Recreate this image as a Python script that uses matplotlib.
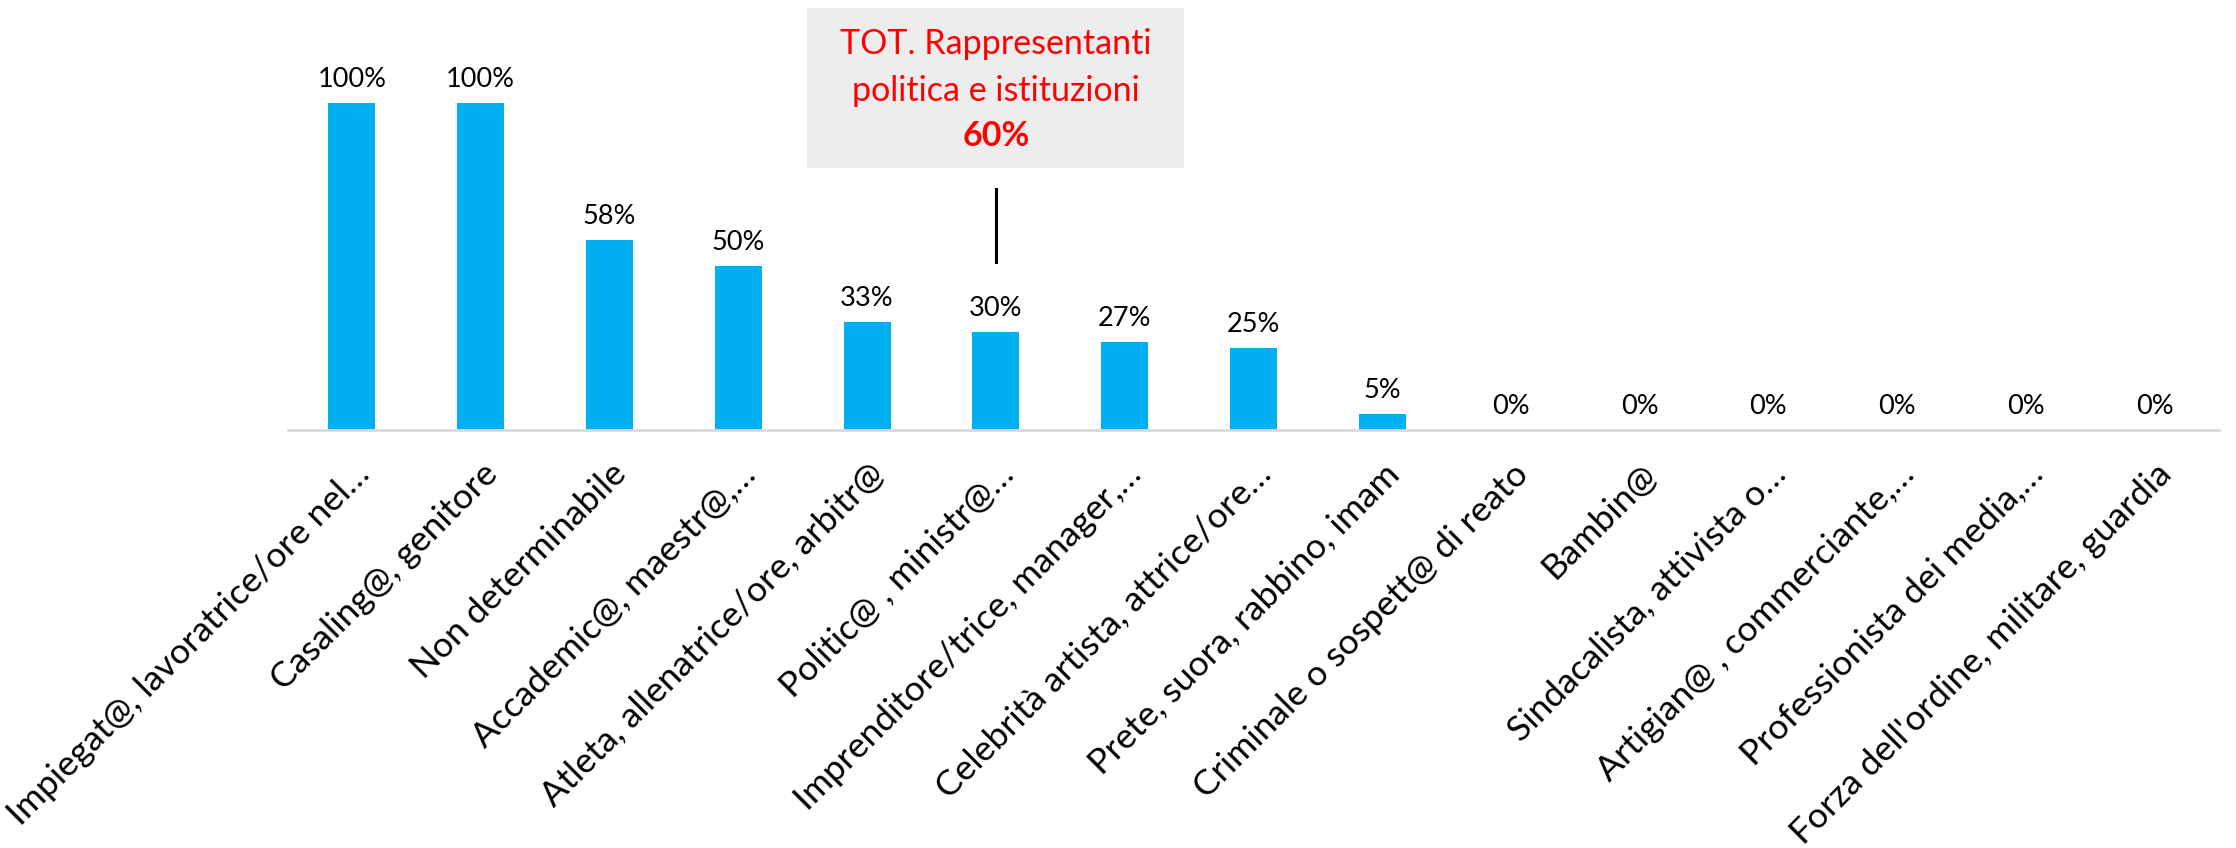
import matplotlib
matplotlib.use("Agg")
import matplotlib.pyplot as plt
import matplotlib.transforms as mtransforms
from matplotlib.patches import Rectangle

categorie = [
    "Impiegat@, lavoratrice/ore nel…",
    "Casaling@, genitore",
    "Non determinabile",
    "Accademic@, maestr@,…",
    "Atleta, allenatrice/ore, arbitr@",
    "Politic@ , ministr@…",
    "Imprenditore/trice, manager,…",
    "Celebrità artista, attrice/ore…",
    "Prete, suora, rabbino, imam",
    "Criminale o sospett@ di reato",
    "Bambin@",
    "Sindacalista, attivista o…",
    "Artigian@ , commerciante,…",
    "Professionista dei media,…",
    "Forza dell'ordine, militare, guardia",
]
valori = [100, 100, 58, 50, 33, 30, 27, 25, 5, 0, 0, 0, 0, 0, 0]

box_righe = ["TOT. Rappresentanti", "politica e istituzioni"]
box_valore = "60%"
box_idx = 5

plt.rcParams['font.family'] = ['Lato', 'DejaVu Sans']

W, H = 2236, 848
fig = plt.figure(figsize=(W / 100, H / 100), dpi=100)
x0, x1 = 287.6, 2219
ybase, ytop = 430, 102.7
ax = fig.add_axes([x0 / W, 1 - ybase / H, (x1 - x0) / W, (ybase - ytop) / H])

xs = list(range(len(categorie)))
ax.bar(xs, valori, width=0.365, color="#00B0F0", zorder=2)
ax.set_xlim(-0.5, len(categorie) - 0.5)
ax.set_ylim(0, 100)

for x, v in zip(xs, valori):
    ax.annotate(f"{v}%", (x, v), xytext=(0, 8), textcoords="offset points",
                ha="center", va="bottom", fontsize=19.5, color="black")

for s in ["top", "right", "left"]:
    ax.spines[s].set_visible(False)
ax.spines["bottom"].set_color("#D9D9D9")
ax.spines["bottom"].set_linewidth(2)
ax.set_yticks([])
ax.set_xticks(xs)
ax.set_xticklabels(categorie, rotation=45, ha="right", va="center",
                   rotation_mode="anchor", fontsize=25.5)
ax.tick_params(axis="x", length=0, pad=28)
off = mtransforms.ScaledTranslation(12 / 100, 0, fig.dpi_scale_trans)
for lab in ax.get_xticklabels():
    lab.set_transform(lab.get_transform() + off)

# riquadro annotazione
h = ybase - ytop
def yd(py):
    return (ybase - py) / h * 100
dx = (995.5 - 807) / 128.7
ax.add_patch(Rectangle((box_idx - dx, yd(168)), 2 * dx, yd(8) - yd(168),
                       facecolor="#EDEDED", edgecolor="none", clip_on=False, zorder=3))
ax.plot([box_idx, box_idx], [yd(262), yd(189)], color="black", lw=2.2,
        clip_on=False, zorder=3)
ax.text(box_idx, yd(54), box_righe[0], ha="center", va="baseline", color="#FF0000",
        fontsize=24.5, zorder=4, clip_on=False)
ax.text(box_idx, yd(101), box_righe[1], ha="center", va="baseline", color="#FF0000",
        fontsize=24.5, zorder=4, clip_on=False)
ax.text(box_idx, yd(146), box_valore, ha="center", va="baseline", color="#FF0000",
        fontsize=24.5, fontweight="bold", zorder=4, clip_on=False)

fig.savefig("out.png", dpi=100)
